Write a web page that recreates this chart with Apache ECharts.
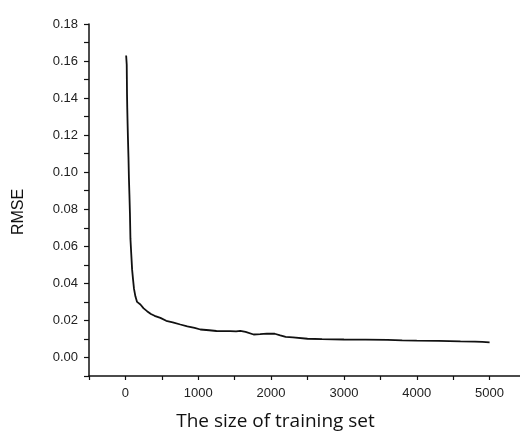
<!DOCTYPE html>
<html>
<head>
<meta charset="utf-8">
<script src="https://cdn.jsdelivr.net/npm/echarts@6/dist/echarts.min.js"></script>
<style>html,body{margin:0;padding:0;background:#fff}#c{width:520px;height:432px}</style>
</head>
<body>
<div id="c"></div>
<script>
var trainingSize = [10,15,18,20,22,25,30,35,42,48,55,62,69,80,92,105,118,137,160,206,250,297,350,400,480,560,650,754,850,950,1029,1150,1250,1350,1440,1520,1577,1650,1760,1850,1943,2050,2126,2200,2300,2500,2700,3000,3300,3600,3800,4000,4300,4600,4800,4900,5000];
var rmse = [0.163,0.164,0.158,0.150,0.142,0.135,0.126,0.118,0.108,0.097,0.088,0.078,0.064,0.056,0.0474,0.042,0.037,0.033,0.030,0.0286,0.0265,0.025,0.0235,0.0225,0.0214,0.0198,0.019,0.0178,0.0168,0.016,0.0151,0.0147,0.0143,0.0142,0.0142,0.0141,0.0144,0.0138,0.0124,0.0126,0.0129,0.0128,0.0119,0.0111,0.0108,0.0101,0.0099,0.0097,0.0096,0.0095,0.0092,0.0091,0.009,0.0087,0.0086,0.0084,0.0082];
var xTicks = [0,1000,2000,3000,4000,5000];
var yTicks = [0.00,0.02,0.04,0.06,0.08,0.10,0.12,0.14,0.16,0.18];

var pts = trainingSize.map(function(x,i){return [x, rmse[i]];});
var chart = echarts.init(document.getElementById('c'));
chart.setOption({
  animation:false,
  grid:{left:89, top:24, width:437, bottom:56, containLabel:false, outerBoundsMode:'none'},
  xAxis:{
    type:'value', min:-500, max:5500, interval:500,
    name:'The size of training set', nameLocation:'middle', nameGap:36,
    nameTextStyle:{fontFamily:'Open Sans', fontSize:19, color:'#111', padding:[0,64,0,0]},
    axisLine:{show:true, onZero:false, lineStyle:{color:'#111', width:1.5}},
    axisTick:{show:true, inside:false, length:4, lineStyle:{color:'#111', width:1.2}},
    splitLine:{show:false},
    axisLabel:{margin:11, fontFamily:'Liberation Sans', fontSize:13, color:'#222',
      formatter:function(v){var r=Math.round(v); return xTicks.indexOf(r)>=0 ? String(r) : '';}}
  },
  yAxis:{
    type:'value', min:-0.01, max:0.18, interval:0.01,
    name:'RMSE', nameLocation:'middle', nameGap:62, nameRotate:90,
    nameTextStyle:{fontFamily:'Liberation Sans', fontSize:16, color:'#111', padding:[0,24,0,0]},
    axisLine:{show:true, onZero:false, lineStyle:{color:'#111', width:1.5}},
    axisTick:{show:true, inside:false, length:5, lineStyle:{color:'#111', width:1.2}},
    splitLine:{show:false},
    axisLabel:{margin:11, fontFamily:'Liberation Sans', fontSize:13, color:'#222',
      formatter:function(v){var r=Math.round(v*100)/100; for(var i=0;i<yTicks.length;i++){if(Math.abs(yTicks[i]-r)<1e-9) return r.toFixed(2);} return '';}}
  },
  series:[{
    type:'line', data:pts, showSymbol:false, symbol:'none',
    lineStyle:{color:'#111', width:1.8}
  }]
});
</script>
</body>
</html>
